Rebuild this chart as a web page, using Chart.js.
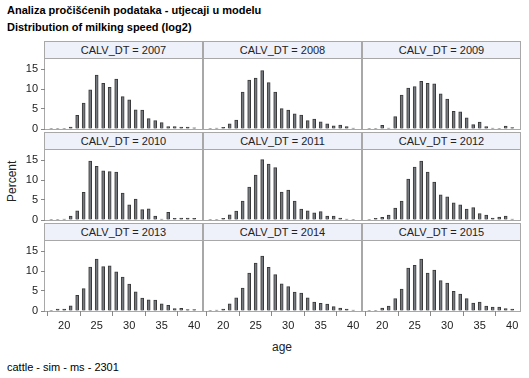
<!DOCTYPE html>
<html>
<head>
<meta charset="utf-8">
<script src="https://cdn.jsdelivr.net/npm/chart.js@4.4.1/dist/chart.umd.min.js"></script>
<style>
  html, body { margin: 0; padding: 0; background: #fff; }
  body { width: 529px; height: 378px; position: relative; overflow: hidden; font-family: "Liberation Sans", Arial, sans-serif; }
  .t { position: absolute; white-space: nowrap; color: #000; }
  .panel { position: absolute; box-sizing: border-box; border: 1px solid #a8a8a8; }
  .hdr { position: absolute; left: 0; top: 0; right: 0; height: 16px; box-sizing: border-box; border-bottom: 1px solid #a8a8a8; background: #eef0fa; font-size: 11px; color: #222; text-align: center; line-height: 16px; }
  canvas { position: absolute; }
</style>
</head>
<body>
<div class="t" style="left:7px; top:4px; font-size:11px; font-weight:bold;">Analiza pročišćenih podataka - utjecaji u modelu</div>
<div class="t" style="left:7px; top:21px; font-size:11px; font-weight:bold;">Distribution of milking speed (log2)</div>
<div class="t" style="left:5px; font-size:12px; color:#222; transform:rotate(-90deg); transform-origin:left top; top:202px;">Percent</div>
<div class="t" style="left:272px; top:340px; font-size:12px; color:#222;">age</div>
<div class="t" style="left:7px; top:361px; font-size:11px;">cattle - sim - ms - 2301</div>
<div id="root"></div>
<script>
// ---- data ----
const ages = [18,19,20,21,22,23,24,25,26,27,28,29,30,31,32,33,34,35,36,37,38,39,40];
const panelLabels = ["CALV_DT = 2007","CALV_DT = 2008","CALV_DT = 2009",
                     "CALV_DT = 2010","CALV_DT = 2011","CALV_DT = 2012",
                     "CALV_DT = 2013","CALV_DT = 2014","CALV_DT = 2015"];
const pct2007 = [0.1,0.1,0.1,0.5,3.4,6.5,9.8,13.5,11.4,10.4,12.5,8.1,7.3,4.8,4.75,2.6,2.1,1.6,0.6,0.6,0.5,0.5,0.3];
const pct2008 = [0.05,0.25,0.4,1.3,2.2,9.2,12.2,12.7,14.6,11.6,9.2,5.1,4.7,3.8,3.5,2.1,2.5,1.8,1.3,0.8,1.0,0.6,0.25];
const pct2009 = [0.15,0.1,0.9,0.25,3.1,8.5,10.2,10.6,11.9,11.4,11.3,8.8,7.5,4.4,4.3,2.8,1.1,1.7,0.6,0.25,0.15,0.75,0.35];
const pct2010 = [0.05,0.05,0.25,1.0,2.3,6.9,14.75,13.4,12.3,12.1,12.0,6.7,3.8,5.2,2.6,2.8,1.0,0.25,1.9,0.4,0.5,0.5,0.4];
const pct2011 = [0.05,0.05,0.4,1.3,2.25,4.75,8.25,11.25,15.1,14.0,13.1,7.0,7.5,4.75,2.75,2.3,1.8,2.1,1.0,1.0,0.5,0.25,0.1];
const pct2012 = [0.05,0.4,0.65,1.25,3.0,4.7,10.25,13.25,14.75,12.0,9.5,6.3,5.8,4.3,3.8,2.75,3.1,1.6,1.25,0.5,0.75,1.0,0.25];
const pct2013 = [0.05,0.5,0.5,1.3,3.9,5.6,11.0,13.0,11.1,11.3,9.8,8.5,6.7,4.8,3.25,2.8,2.7,1.8,1.4,0.6,0.65,0.35,0.35];
const pct2014 = [0.1,0.2,0.5,1.8,3.3,5.75,9.5,12.0,13.75,10.9,9.1,6.8,6.1,4.7,4.5,3.3,2.25,1.9,1.75,1.1,0.75,0.5,0.25];
const pct2015 = [0.05,0.05,0.75,1.2,3.1,5.5,10.75,11.4,13.0,9.5,10.25,7.6,7.0,4.9,4.25,3.1,2.0,2.2,1.2,1.0,1.0,0.6,0.5];
const xTicks = [20,25,30,35,40];
const yTicks = [0,5,10,15];
const series = [pct2007,pct2008,pct2009,pct2010,pct2011,pct2012,pct2013,pct2014,pct2015];

// ---- layout ----
const colLeft = [44, 203, 362];
const rowTop = [41, 132, 223];
const PW = 159, HH = 17, PH = 71;
const LM = 45, TM = 10, RM = 10, BM = 30;
const X_MIN = 17.05, X_MAX = 41.2, Y_MAX = 17.75;

const root = document.getElementById('root');
series.forEach((vals, k) => {
  const r = Math.floor(k / 3), c = k % 3;
  const L = colLeft[c], T = rowTop[r];
  const p = document.createElement('div');
  p.className = 'panel';
  p.style.left = L + 'px'; p.style.top = T + 'px';
  p.style.width = PW + 'px'; p.style.height = (HH + PH + 1) + 'px';
  const h = document.createElement('div');
  h.className = 'hdr'; h.textContent = panelLabels[k];
  h.style.height = HH + 'px'; h.style.lineHeight = (HH - 1) + 'px';
  p.appendChild(h);
  root.appendChild(p);

  const cv = document.createElement('canvas');
  const cw = LM + (PW - 2) + RM, ch = TM + PH + BM;
  cv.width = cw; cv.height = ch;
  cv.style.width = cw + 'px'; cv.style.height = ch + 'px';
  cv.style.left = (L + 1 - LM) + 'px';
  cv.style.top = (T + HH - TM) + 'px';
  root.appendChild(cv);

  const showY = c === 0, showX = r === 2;
  new Chart(cv, {
    type: 'bar',
    data: {
      datasets: [{
        data: ages.map((a, i) => ({ x: a, y: vals[i] })),
        backgroundColor: '#767a81',
        borderColor: '#3a3a3a',
        borderWidth: 1,
        barThickness: 3,
        borderSkipped: 'bottom'
      }]
    },
    options: {
      responsive: false,
      animation: false,
      devicePixelRatio: 1,
      layout: { padding: { top: TM, right: RM, left: 0, bottom: 0 } },
      plugins: { legend: { display: false }, tooltip: { enabled: false }, title: { display: false } },
      scales: {
        x: {
          type: 'linear', offset: false,
          min: X_MIN, max: X_MAX,
          afterFit: s => { s.height = BM; },
          afterBuildTicks: s => { s.ticks = xTicks.map(v => ({ value: v })); },
          grid: { drawOnChartArea: false, drawTicks: showX, tickLength: 5, color: '#888' },
          border: { display: false },
          ticks: { display: showX, autoSkip: false, maxRotation: 0, padding: 3, color: '#222', font: { family: 'Liberation Sans', size: 11 } }
        },
        y: {
          min: 0, max: Y_MAX,
          afterFit: s => { s.width = LM; },
          afterBuildTicks: s => { s.ticks = yTicks.map(v => ({ value: v })); },
          grid: { drawOnChartArea: false, drawTicks: showY, tickLength: 4, color: '#888' },
          border: { display: false },
          ticks: { display: showY, padding: 3, color: '#222', font: { family: 'Liberation Sans', size: 11 } }
        }
      }
    }
  });
});
</script>
</body>
</html>
